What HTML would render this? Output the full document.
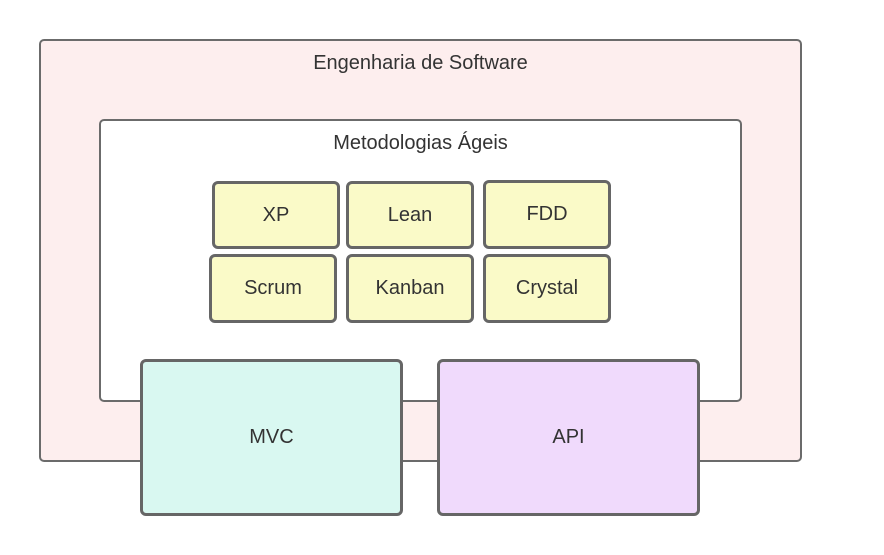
<!DOCTYPE html>
<html><head><meta charset="utf-8"><style>
body{margin:0;width:884px;height:555px;background:#fff;position:relative;font-family:"Liberation Sans",sans-serif;color:#333;overflow:hidden}
.b{position:absolute;box-sizing:border-box;border:2px solid #6b6b6b;border-radius:5px}
.s{position:absolute;box-sizing:border-box;border:3px solid #666;border-radius:6px;background:#fafac8;display:flex;align-items:center;justify-content:center;font-size:20px}
.t{position:absolute;left:0;right:0;text-align:center;font-size:20px}
</style></head><body>
<div class="b" style="left:39px;top:39px;width:763px;height:423px;background:#fdeeee"><div class="t" style="top:11px">Engenharia de Software</div></div>
<div class="b" style="left:99px;top:119px;width:643px;height:283px;background:#fff"><div class="t" style="top:11px">Metodologias Ágeis</div></div>
<div class="s" style="left:212px;top:181px;width:128px;height:68px">XP</div>
<div class="s" style="left:346px;top:181px;width:128px;height:68px">Lean</div>
<div class="s" style="left:483px;top:180px;width:128px;height:69px">FDD</div>
<div class="s" style="left:209px;top:254px;width:128px;height:69px">Scrum</div>
<div class="s" style="left:346px;top:254px;width:128px;height:69px">Kanban</div>
<div class="s" style="left:483px;top:254px;width:128px;height:69px">Crystal</div>
<div class="s" style="left:140px;top:359px;width:263px;height:157px;background:#d9f8f1">MVC</div>
<div class="s" style="left:437px;top:359px;width:263px;height:157px;background:#f0dafc">API</div>
</body></html>
